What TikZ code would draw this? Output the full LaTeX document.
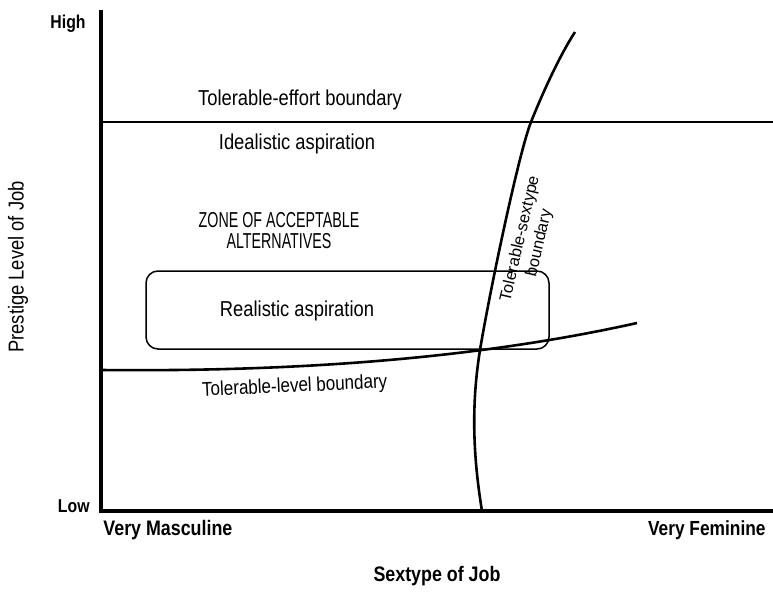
\documentclass[tikz,border=0pt]{standalone}
\usepackage{fontspec}
\setmainfont[FakeStretch=0.85]{Liberation Sans}
\newfontfamily\plainsans{Liberation Sans}
\newfontfamily\capsfont[FakeStretch=0.66]{Liberation Sans}
\usepackage{tikz}
\tikzset{
	,axis/.style	 = {line width = 2pt, line join = miter}
	,bound/.style	 = {line width = 1.3pt}
	,zone/.style	 = {draw, line width = 0.75pt, rounded corners = 6pt}
	,txt/.style	 = {inner sep = 0pt, font = \fontsize{10.8}{10.5}\selectfont}
	,axlbl/.style	 = {inner sep = 0pt, font = \fontsize{10.5}{12}\selectfont\bfseries}
	,endlbl/.style	 = {inner sep = 0pt, font = \fontsize{9.3}{12}\selectfont\bfseries}
}

\begin{document}
\begin{tikzpicture}[x=0.5pt, y=-0.5pt]

	\useasboundingbox (0,0) rectangle (773,611);

	% the axes
	\coordinate (ytop) at (101,10);
	\coordinate (org)  at (101,511);
	\coordinate (xend) at (773,511);
	\draw[axis] (ytop) -- (org) -- (xend);

	\node (high) [endlbl, anchor = base east] at (86,28)  {High};
	\node (low)  [endlbl, anchor = base east] at (90,512) {Low};
	\node (masc) [axlbl, anchor = base west] at (103,535) {Very Masculine};
	\node (fem)  [axlbl, anchor = base east, font = \fontsize{10.2}{12}\selectfont\bfseries] at (766,535) {Very Feminine};
	\node (xlab) [axlbl, anchor = base] at (437,581) {Sextype of Job};
	\node (ylab) [txt, rotate = 90] at (18,267) {Prestige Level of Job};

	% the boundaries
	\coordinate (effl) at (101,122);
	\coordinate (effr) at (773,122);
	\draw[bound] (effl) -- (effr);
	\draw[bound] (101,370) .. controls (300,372) and (480,358) .. (637,323);
	\draw[bound] (482,511) .. controls (472,450) and (472,400) .. (480,350)
		.. controls (490,290) and (519,152) .. (531,122)
		.. controls (543,92) and (560,55) .. (575,32);

	% the zone
	\node (zonebox) [zone, minimum width = 201.5pt, minimum height = 39pt] at (347.5,310) {};

	% the labels
	\node (effort) [txt, anchor = base] at (300,105) {Tolerable-effort boundary};
	\node (ideal)  [txt, anchor = base] at (297,149) {Idealistic aspiration};
	\node (accept) [txt, align = center, font = \capsfont\fontsize{10.8}{10.5}\selectfont] at (279,231) {ZONE OF ACCEPTABLE\\ALTERNATIVES};
	\node (real)   [txt, anchor = base] at (297,316) {Realistic aspiration};
	\node (level)  [txt, anchor = base, rotate = 2.5, font = \fontsize{10}{12}\selectfont] at (295,392) {Tolerable-level boundary};
	\node (sextype) [inner sep = 0pt, align = center, rotate = 77, font = \plainsans\fontsize{8.2}{9.8}\selectfont] at (530,241) {Tolerable-sextype\\boundary};
\end{tikzpicture}
\end{document}
